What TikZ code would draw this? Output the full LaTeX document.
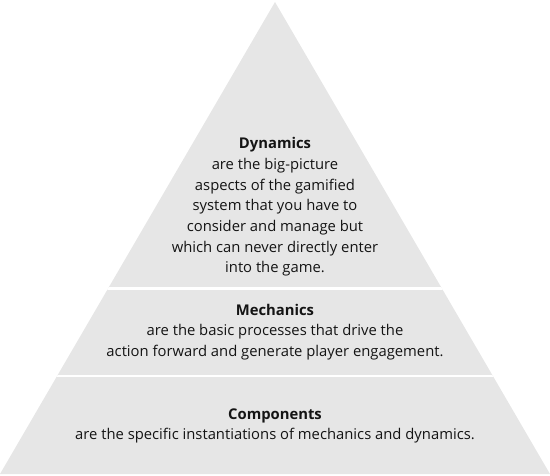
\documentclass[tikz,border=0pt]{standalone}
\usepackage{fontspec}
\setmainfont{Open Sans}
\definecolor{pyrgray}{RGB}{230, 230, 230}
\usetikzlibrary{positioning, calc}

\begin{document}
\begin{tikzpicture}[x=1pt, y=1pt,
  layertext/.style={align=center, text=black!92, font=\fontsize{14.8}{20.7}\selectfont, inner sep=0pt}]
  \useasboundingbox (0,0) rectangle (550,475);
  % pyramid outline
  \coordinate (apex) at (275,473);
  \coordinate (bl) at (0,1);
  \coordinate (br) at (550,1);
  \fill[pyrgray] (apex) -- (br) -- (bl) -- cycle;
  % white gaps between the layers
  \begin{scope}
    \clip (apex) -- (br) -- (bl) -- cycle;
    \fill[white] (0,185) rectangle (550,187.5);
    \fill[white] (0,98) rectangle (550,100.5);
  \end{scope}
  % layer texts
  \node[layertext] (dynamics) at (275,268) {\textbf{Dynamics}\\
    are the big-picture\\
    aspects of the gamified\\
    system that you have to\\
    consider and manage but\\
    which can never directly enter\\
    into the game.};
  \node[layertext] (mechanics) at (275,143) {\textbf{Mechanics}\\
    are the basic processes that drive the\\
    action forward and generate player engagement.};
  \node[layertext] (components) at (275,49) {\textbf{Components}\\
    are the specific instantiations of mechanics and dynamics.};
\end{tikzpicture}
\end{document}
